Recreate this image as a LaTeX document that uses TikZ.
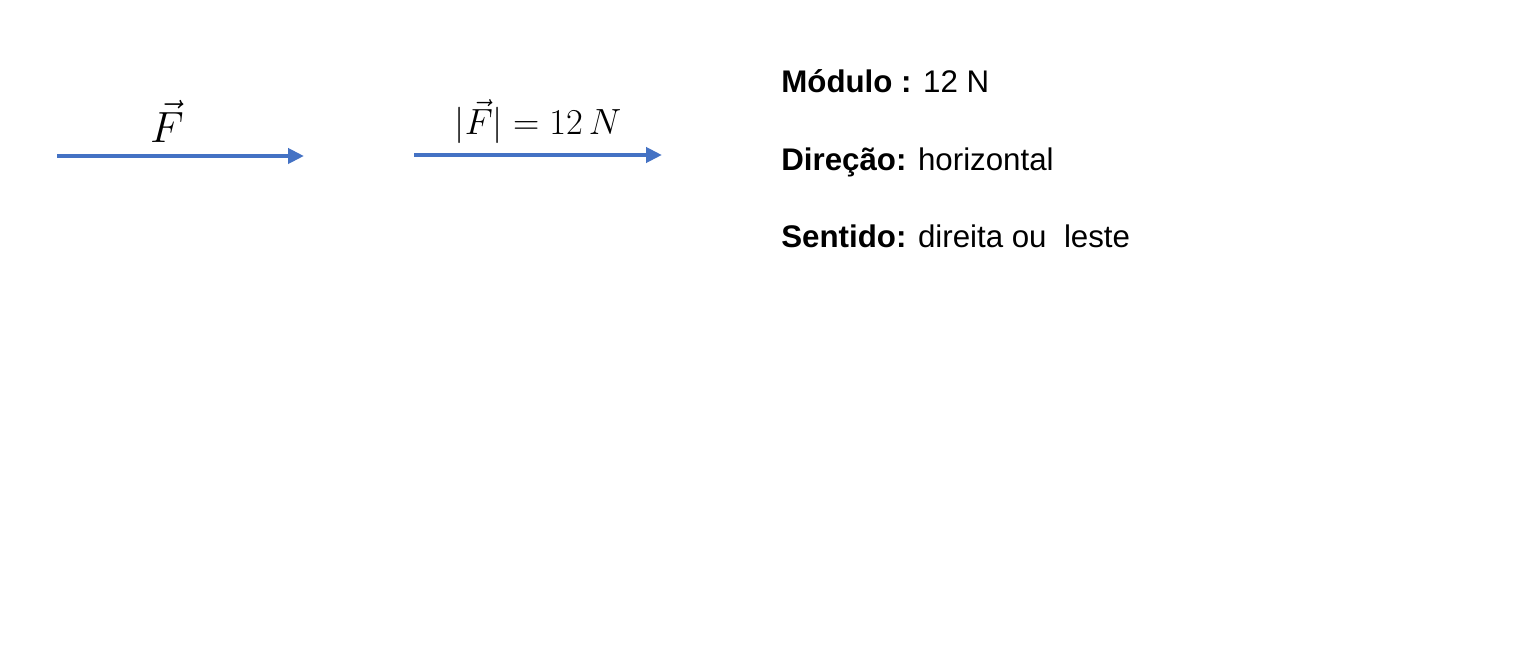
\documentclass[tikz,border=0pt]{standalone}
\usepackage{fontspec}
\setmainfont{Liberation Sans}
\usetikzlibrary{arrows.meta,positioning}
\definecolor{bleuseta}{RGB}{68,114,196}
\tikzstyle{seta}=[draw=bleuseta,line width=2.3pt,-{Triangle[length=0.32cm,width=0.3cm]}]
\tikzstyle{rotulo}=[inner sep=0pt,anchor=base,font=\fontsize{26}{30}\selectfont]
\tikzstyle{linha}=[inner sep=0pt,anchor=base west,font=\fontsize{17.8}{21}\selectfont]

\begin{document}
\begin{tikzpicture}[x=0.02cm,y=-0.02cm]
\useasboundingbox (0,0) rectangle (1536,648);

\coordinate (a1) at (57,156);
\coordinate (b1) at (304,156);
\coordinate (a2) at (414,155);
\coordinate (b2) at (662,155);

\draw[seta] (a1) -- (b1);
\draw[seta] (a2) -- (b2);

\node[rotulo] (vetF) at (167,143) {$\vec{F}$};
\node[rotulo,font=\fontsize{21.5}{25}\selectfont] (modF) at (538,135) {$|\vec{F}| = 12\,N$};

\node[linha] (mod) at (781,93) {\textbf{Módulo :} 12 N};
\node[linha] (dir) at (781,171) {\textbf{Direção:} horizontal};
\node[linha] (sen) at (781,248) {\textbf{Sentido:} direita ou\ \ leste};

\end{tikzpicture}
\end{document}
